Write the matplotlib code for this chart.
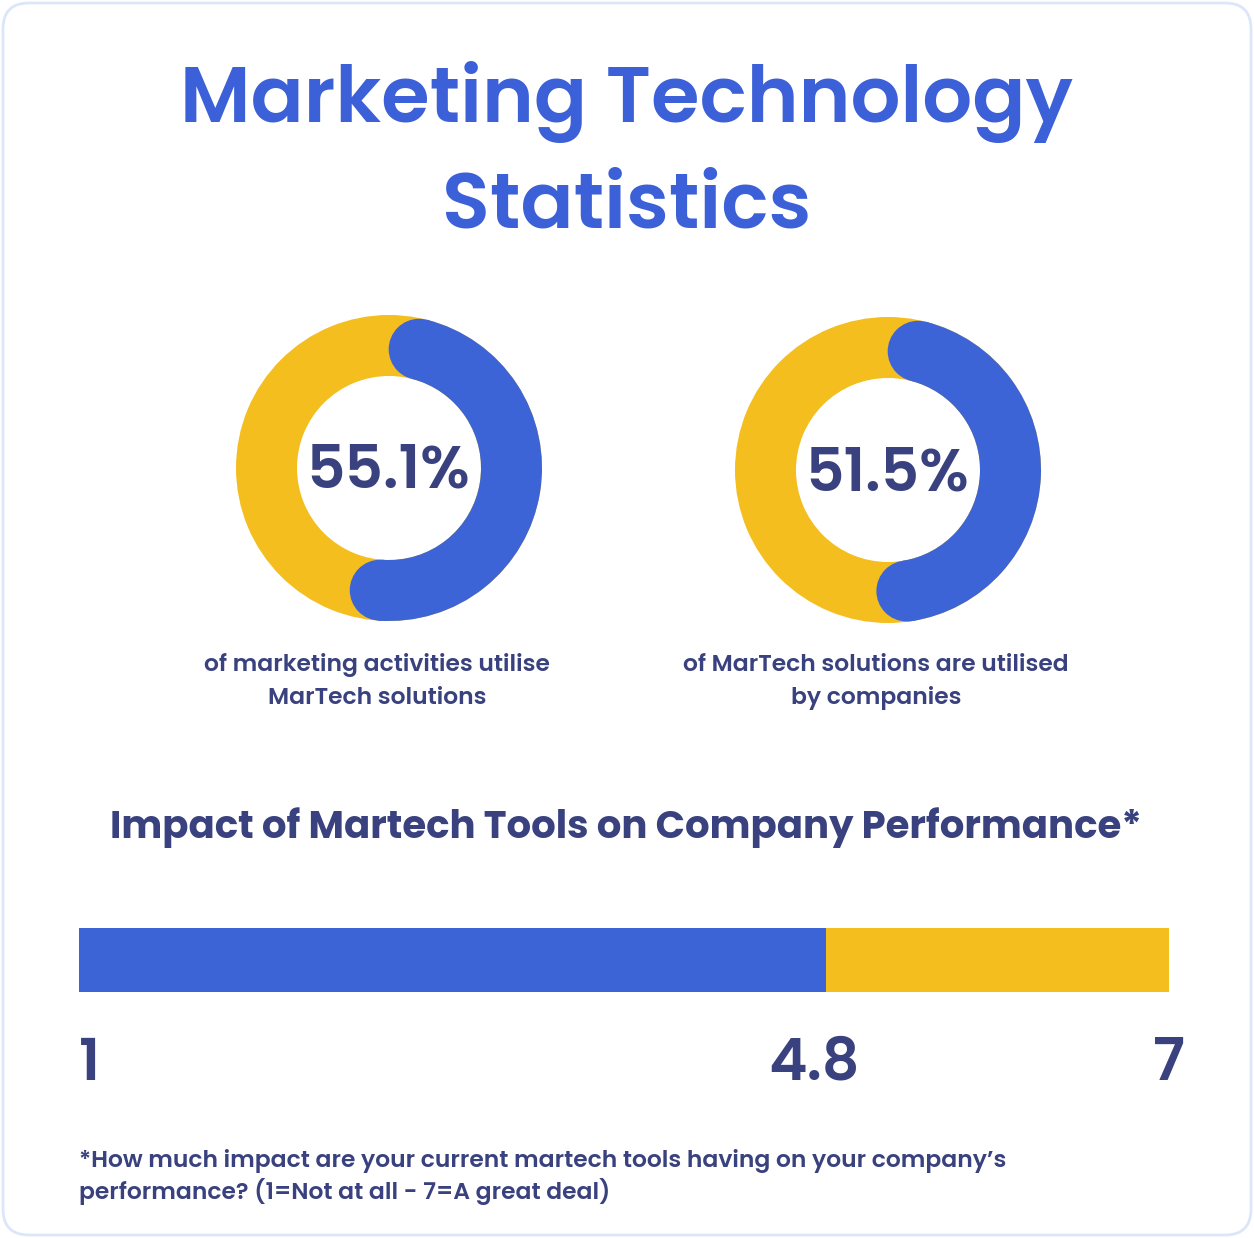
import matplotlib
matplotlib.use("Agg")
import matplotlib.pyplot as plt
import matplotlib.transforms as mtransforms
import numpy as np
from matplotlib.patches import Wedge, Circle, FancyBboxPatch

# ---------------- data ----------------
title_lines = ["Marketing Technology", "Statistics"]
donut_values = [55.1, 51.5]
donut_captions = [["of marketing activities utilise", "MarTech solutions"],
                  ["of MarTech solutions are utilised", "by companies"]]
bar_title = "Impact of Martech Tools on Company Performance*"
scale_min = 1
scale_max = 7
impact_score = 4.8
scale_labels = ["1", "4.8", "7"]
footnote = ["*How much impact are your current martech tools having on your company\u2019s",
            "performance? (1=Not at all - 7=A great deal)"]

BLUE = "#3D64D6"
YELLOW = "#F4BE1F"
NAVY = "#39427F"
TITLE_BLUE = "#3B60D8"
BORDER = "#DCE6FA"
FONT = ["Poppins", "DejaVu Sans"]

W, H = 1254, 1238
fig = plt.figure(figsize=(W / 100, H / 100), dpi=100)
fig.patch.set_facecolor("white")

# background/pixel axes
bg = fig.add_axes([0, 0, 1, 1])
bg.set_xlim(0, W)
bg.set_ylim(H, 0)
bg.axis("off")
bg.add_patch(FancyBboxPatch((3, 3), W - 6, H - 6, boxstyle="round,pad=0,rounding_size=26",
                            facecolor="white", edgecolor=BORDER, linewidth=2))

# title
bg.text(627, 122, title_lines[0], ha="center", va="baseline", color=TITLE_BLUE,
        fontsize=56.5, fontweight="semibold", family=FONT)
bg.text(627, 228, title_lines[1], ha="center", va="baseline", color=TITLE_BLUE,
        fontsize=56.5, fontweight="semibold", family=FONT)

# donuts
centers = [(389, 468), (888, 470)]
R_OUT, WIDTH = 153, 61
r_mid = R_OUT - WIDTH / 2
hw = WIDTH / 2
cap = np.degrees(hw / r_mid)
cap_x = [377, 876]
for (cx, cy), val, capt, tx in zip(centers, donut_values, donut_captions, cap_x):
    half = 175
    ax = fig.add_axes([(cx - half) / W, 1 - (cy + half) / H, 2 * half / W, 2 * half / H])
    ax.set_xlim(-half, half)
    ax.set_ylim(-half, half)
    ax.set_aspect("equal")
    ax.axis("off")
    ax.add_patch(Wedge((0, 0), R_OUT, 0, 360, width=WIDTH, facecolor=YELLOW, edgecolor="none"))
    span = val / 100 * 360
    a1, a2 = cap, span - cap  # clockwise from top
    ax.add_patch(Wedge((0, 0), R_OUT, 90 - a2, 90 - a1, width=WIDTH, facecolor=BLUE, edgecolor="none"))
    for a in (a1, a2):
        t = np.radians(90 - a)
        ax.add_patch(Circle((r_mid * np.cos(t), r_mid * np.sin(t)), hw, facecolor=BLUE, edgecolor="none"))
    ax.text(-1, -20, f"{val}%", ha="center", va="baseline", color=NAVY, fontsize=43,
            fontweight="semibold", family=FONT)
    bg.text(tx, 671, capt[0], ha="center", va="baseline", color=NAVY, fontsize=16.9,
            fontweight="semibold", family=FONT)
    bg.text(tx, 704, capt[1], ha="center", va="baseline", color=NAVY, fontsize=16.9,
            fontweight="semibold", family=FONT)

# bar section title
bg.text(626, 838, bar_title, ha="center", va="baseline", color=NAVY, fontsize=27.8,
        fontweight="bold", family=FONT)

# bar
bx0, bx1, by0, by1 = 79, 1169, 928, 992
bax = fig.add_axes([bx0 / W, 1 - by1 / H, (bx1 - bx0) / W, (by1 - by0) / H])
bax.set_xlim(0, scale_max)
bax.set_ylim(0, 1)
bax.axis("off")
bax.barh(0.5, impact_score, left=0, height=1, color=BLUE, edgecolor="none")
bax.barh(0.5, scale_max - impact_score, left=impact_score, height=1, color=YELLOW, edgecolor="none")

lab_pos = [0, impact_score, scale_max]
lab_ha = ["left", "center", "center"]
lab_dx = [0, -12, 0]
for lbl, xp, ha, dx in zip(scale_labels, lab_pos, lab_ha, lab_dx):
    tr = bax.transData + mtransforms.ScaledTranslation(dx / 100, 0, fig.dpi_scale_trans)
    bax.text(xp, -(1080 - by1) / (by1 - by0), lbl, ha=ha, va="baseline", color=NAVY,
             fontsize=42, fontweight="semibold", family=FONT, transform=tr)

# footnote
bg.text(79, 1167, footnote[0], ha="left", va="baseline", color=NAVY, fontsize=16.9,
        fontweight="semibold", family=FONT)
bg.text(79, 1199, footnote[1], ha="left", va="baseline", color=NAVY, fontsize=16.9,
        fontweight="semibold", family=FONT)

fig.savefig("out.png", dpi=100, facecolor="white")
